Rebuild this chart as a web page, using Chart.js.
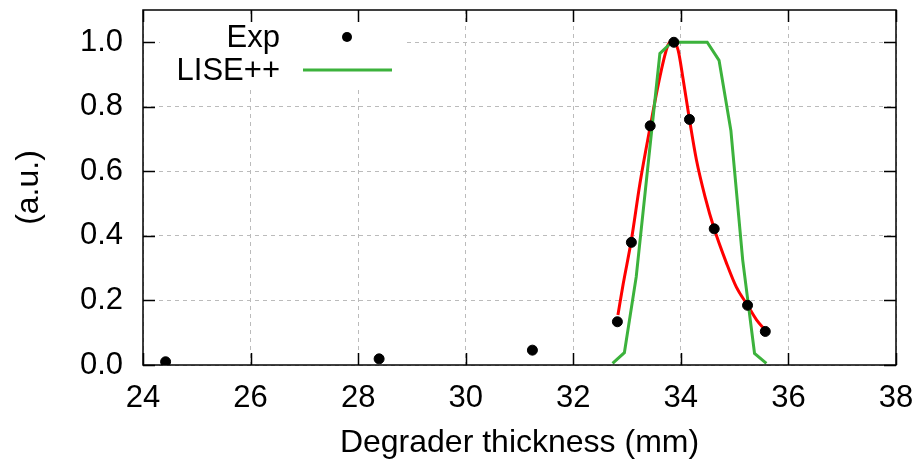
<!DOCTYPE html>
<html>
<head>
<meta charset="utf-8">
<script src="https://cdn.jsdelivr.net/npm/chart.js@4"></script>
<style>
    html, body { margin: 0; padding: 0; background: #fff; }
    #wrap { width: 917px; height: 464px; }
</style>
</head>
<body>
<div id="wrap"><canvas id="chart" width="917" height="464"></canvas></div>
<script>
// Exp data points
const expX = [24.42, 28.39, 31.24, 32.82, 33.08, 33.43, 33.87, 34.16, 34.62, 35.24, 35.57];
const expY = [0.01, 0.019, 0.046, 0.134, 0.38, 0.741, 1.0, 0.761, 0.422, 0.185, 0.104];

// red fit through the Exp points
const fitX = [32.83, 32.93, 33.08, 33.24, 33.43, 33.61, 33.76, 33.86, 33.95, 34.04, 34.16, 34.29, 34.45, 34.62, 34.85, 35.03, 35.24, 35.41, 35.57];
const fitY = [0.155, 0.253, 0.387, 0.563, 0.738, 0.893, 0.991, 1.005, 0.975, 0.888, 0.761, 0.635, 0.521, 0.422, 0.315, 0.242, 0.185, 0.139, 0.108];

// LISE++ calculation
const liseX = [32.73, 32.95, 33.17, 33.39, 33.61, 33.83, 34.05, 34.27, 34.49, 34.71, 34.93, 35.15, 35.37, 35.59];
const liseY = [0.005, 0.038, 0.273, 0.62, 0.965, 1.0, 1.0, 1.0, 1.0, 0.944, 0.727, 0.325, 0.036, 0.005];

const xTicks = [24, 26, 28, 30, 32, 34, 36, 38];
const yTicks = [0.0, 0.2, 0.4, 0.6, 0.8, 1.0];

const FONT = "'Liberation Sans', Arial, sans-serif";
const GREEN = "#3cb23c";

function pts(xs, ys) {
    return xs.map((x, i) => ({ x: x, y: ys[i] }));
}

// gnuplot style frame, inward ticks and key
const gnuplotLook = {
    id: "gnuplotLook",
    beforeDatasetsDraw(chart) {
        const ctx = chart.ctx;
        ctx.save();
        ctx.fillStyle = "#fff";
        ctx.fillRect(160, 18, 245, 68);
        ctx.restore();
    },
    afterDatasetsDraw(chart) {
        const ctx = chart.ctx;
        const a = chart.chartArea;
        const xs = chart.scales.x, ys = chart.scales.y;
        ctx.save();
        ctx.strokeStyle = "#000";
        ctx.lineWidth = 1.5;
        ctx.beginPath();
        xTicks.forEach(v => {
            const p = Math.round(xs.getPixelForValue(v)) + 0.5;
            ctx.moveTo(p, a.bottom); ctx.lineTo(p, a.bottom - 12);
            ctx.moveTo(p, a.top); ctx.lineTo(p, a.top + 12);
        });
        yTicks.forEach(v => {
            const p = Math.round(ys.getPixelForValue(v)) + 0.5;
            ctx.moveTo(a.left, p); ctx.lineTo(a.left + 12, p);
            ctx.moveTo(a.right, p); ctx.lineTo(a.right - 12, p);
        });
        ctx.stroke();
        ctx.strokeRect(a.left, a.top, a.right - a.left, a.bottom - a.top);

        // key
        ctx.fillStyle = "#000";
        ctx.font = "31px " + FONT;
        ctx.textAlign = "right";
        ctx.textBaseline = "middle";
        ctx.fillText("Exp", 280, 38);
        ctx.fillText("LISE++", 280, 71);
        ctx.beginPath();
        ctx.arc(347, 37, 5, 0, Math.PI * 2);
        ctx.fill();
        ctx.strokeStyle = GREEN;
        ctx.lineWidth = 3;
        ctx.beginPath();
        ctx.moveTo(303, 70); ctx.lineTo(392, 70);
        ctx.stroke();
        ctx.restore();
    }
};

new Chart(document.getElementById("chart"), {
    type: "scatter",
    data: {
        datasets: [
            {
                label: "Exp",
                data: pts(expX, expY),
                backgroundColor: "#000",
                borderColor: "#000",
                pointRadius: 5,
                pointHoverRadius: 5,
                showLine: false,
                order: 0
            },
            {
                label: "LISE++",
                data: pts(liseX, liseY),
                borderColor: GREEN,
                borderWidth: 3,
                pointRadius: 0,
                showLine: true,
                tension: 0,
                order: 1
            },
            {
                label: "fit",
                data: pts(fitX, fitY),
                borderColor: "#ff0000",
                borderWidth: 3,
                pointRadius: 0,
                showLine: true,
                cubicInterpolationMode: "monotone",
                order: 2
            }
        ]
    },
    options: {
        responsive: false,
        animation: false,
        events: [],
        layout: { padding: { top: 10, right: 21, left: 0, bottom: 0 } },
        plugins: {
            legend: { display: false },
            tooltip: { enabled: false }
        },
        scales: {
            x: {
                type: "linear",
                min: 24,
                max: 38,
                afterFit: s => { s.height = 99; s.paddingLeft = 0; s.paddingRight = 0; },
                afterBuildTicks: s => { s.ticks = xTicks.map(v => ({ value: v })); },
                ticks: {
                    color: "#000",
                    font: { family: FONT, size: 31 },
                    padding: 15,
                    callback: v => String(v)
                },
                grid: {
                    color: "#bbb",
                    lineWidth: 1,
                    drawTicks: false,
                    tickLength: 0
                },
                border: { display: false, dash: [4, 4] },
                title: {
                    display: true,
                    text: "Degrader thickness (mm)",
                    color: "#000",
                    font: { family: FONT, size: 32 },
                    padding: { top: 0, bottom: 2 }
                }
            },
            y: {
                min: 0,
                max: 1.1,
                afterFit: s => { s.width = 143; s.paddingTop = 0; s.paddingBottom = 0; },
                afterBuildTicks: s => { s.ticks = yTicks.map(v => ({ value: v })); },
                ticks: {
                    color: "#000",
                    font: { family: FONT, size: 31 },
                    padding: 20,
                    callback: v => v.toFixed(1)
                },
                grid: {
                    color: "#bbb",
                    lineWidth: 1,
                    drawTicks: false,
                    tickLength: 0
                },
                border: { display: false, dash: [4, 4] },
                title: {
                    display: true,
                    text: "(a.u.)",
                    color: "#000",
                    font: { family: FONT, size: 32 },
                    padding: { top: 10, bottom: 0 }
                }
            }
        }
    },
    plugins: [gnuplotLook]
});
</script>
</body>
</html>
